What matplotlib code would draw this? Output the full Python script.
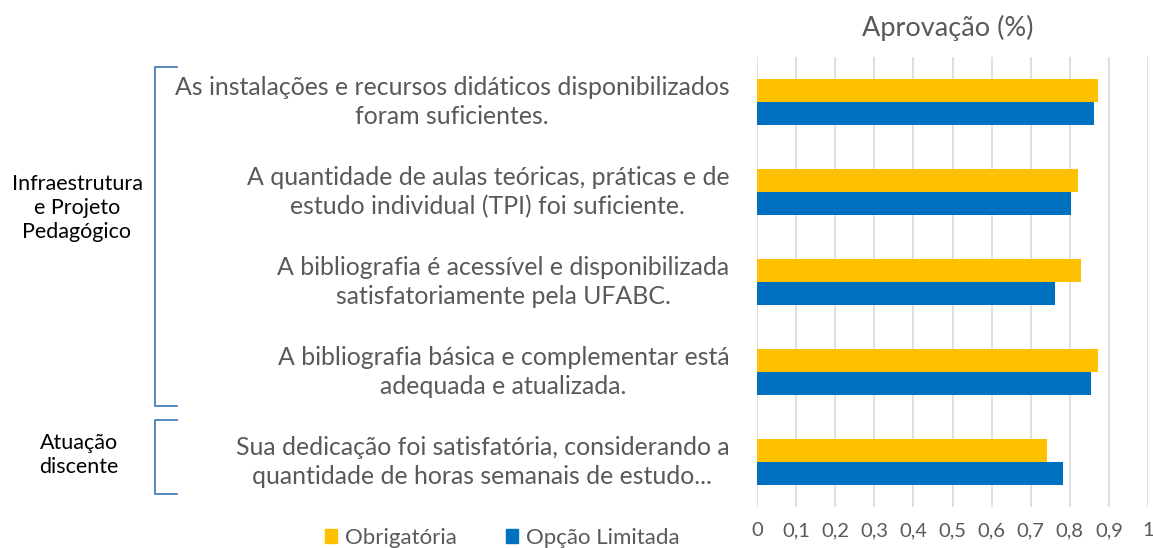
import matplotlib
matplotlib.use('Agg')
import matplotlib.pyplot as plt
from matplotlib.ticker import FuncFormatter
from matplotlib.patches import Patch
import numpy as np

plt.rcParams['font.family'] = ['Lato', 'DejaVu Sans']

questions = [
    'As instalações e recursos didáticos disponibilizados\nforam suficientes.',
    'A quantidade de aulas teóricas, práticas e de\nestudo individual (TPI) foi suficiente.',
    'A bibliografia é acessível e disponibilizada\nsatisfatoriamente pela UFABC.',
    'A bibliografia básica e complementar está\nadequada e atualizada.',
    'Sua dedicação foi satisfatória, considerando a\nquantidade de horas semanais de estudo...',
]
obrigatoria = [0.873, 0.822, 0.829, 0.871, 0.742]
opcao_limitada = [0.861, 0.802, 0.763, 0.853, 0.783]
series_names = ['Obrigatória', 'Opção Limitada']
groups = ['Infraestrutura\ne Projeto\nPedagógico', 'Atuação\ndiscente']

yellow = '#FFC000'
blue = '#0070C0'
gray = '#595959'

fig = plt.figure(figsize=(11.53, 5.48), dpi=100)
ax = fig.add_axes([757/1153, 1-507/548, 391/1153, 450/548])

y = np.arange(len(questions))
h = 0.256
ax.barh(y - h/2, obrigatoria, height=h, color=yellow, zorder=3)
ax.barh(y + h/2, opcao_limitada, height=h, color=blue, zorder=3)

ax.set_xlim(0, 1)
ax.set_ylim(len(questions) - 0.5, -0.5)
ax.set_xticks(np.arange(0, 1.01, 0.1))
ax.xaxis.set_major_formatter(FuncFormatter(lambda v, p: ('%g' % round(v, 1)).replace('.', ',')))
ax.grid(axis='x', color='#d9d9d9', linewidth=1.2, zorder=0)
for s in ax.spines.values():
    s.set_visible(False)
ax.tick_params(axis='x', length=0, pad=11, labelsize=14.5, labelcolor=gray)
ax.tick_params(axis='y', length=0, pad=20, labelsize=17.9, labelcolor=gray)
ax.set_yticks(y)
ax.set_yticklabels(questions, multialignment='center', linespacing=1.3, va='center')

fig.text(948/1153, 1-28/548, 'Aprovação (%)', ha='center', va='center', fontsize=19.5, color=gray)

# group brackets
bcol = '#4a7ebb'
for top, bot in [(67, 406), (420, 494)]:
    xs = [177/1153, 155/1153, 155/1153, 177/1153]
    ys = [1-top/548, 1-top/548, 1-bot/548, 1-bot/548]
    fig.add_artist(plt.Line2D(xs, ys, color=bcol, linewidth=1.3))

fig.text(77/1153, 1-208/548, groups[0], ha='center', va='center', fontsize=15.5,
         color='black', linespacing=1.25)
fig.text(79/1153, 1-455/548, groups[1], ha='center', va='center', fontsize=15.5,
         color='black', linespacing=1.25)

handles = [Patch(color=yellow), Patch(color=blue)]
fig.legend(handles, series_names, loc='center', bbox_to_anchor=(502/1153, 10/548), ncol=2,
           frameon=False, fontsize=16, labelcolor=gray, handlelength=0.55, handleheight=0.55,
           handletextpad=0.35, columnspacing=2.2)

fig.savefig('out.png', dpi=100)
